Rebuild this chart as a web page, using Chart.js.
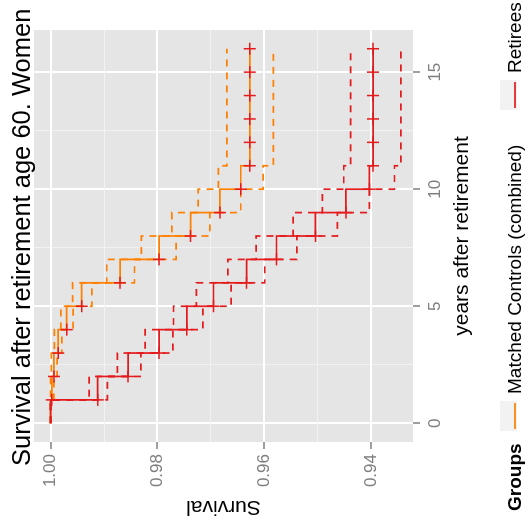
<!DOCTYPE html>
<html>
<head>
<meta charset="utf-8">
<script src="https://cdn.jsdelivr.net/npm/chart.js@4"></script>
<style>
html, body { margin: 0; padding: 0; background: #fff; overflow: hidden; }
#wrap { position: relative; width: 530px; height: 522px; }
/* the chart is drawn upright, then the whole canvas is turned a quarter to the left */
#c { position: absolute; left: 0; top: 0; transform-origin: 0 0; transform: translate(0, 522px) rotate(-90deg); }
</style>
</head>
<body>
<div id="wrap"><canvas id="c" width="522" height="530"></canvas></div>
<script>
const years = [0, 1, 2, 3, 4, 5, 6, 7, 8, 9, 10, 11, 12, 13, 14, 15, 16];

const controls      = [1.0000, 0.9998, 0.9994, 0.9986, 0.9970, 0.9942, 0.9870, 0.9797, 0.9738, 0.9683, 0.9644, 0.9627, 0.9627, 0.9627, 0.9627, 0.9627, 0.9627];
const controlsUpper = [1.0000, 1.0000, 0.9999, 0.9993, 0.9981, 0.9959, 0.9895, 0.9830, 0.9773, 0.9724, 0.9686, 0.9670, 0.9670, 0.9670, 0.9670, 0.9670, 0.9670];
const controlsLower = [1.0000, 0.9994, 0.9988, 0.9979, 0.9958, 0.9923, 0.9843, 0.9765, 0.9702, 0.9644, 0.9602, 0.9583, 0.9583, 0.9583, 0.9583, 0.9583, 0.9583];

const retirees      = [1.0000, 0.9912, 0.9855, 0.9797, 0.9745, 0.9695, 0.9633, 0.9577, 0.9504, 0.9447, 0.9403, 0.9396, 0.9396, 0.9396, 0.9396, 0.9396, 0.9396];
const retireesUpper = [1.0000, 0.9928, 0.9875, 0.9823, 0.9770, 0.9727, 0.9668, 0.9615, 0.9546, 0.9491, 0.9451, 0.9438, 0.9438, 0.9438, 0.9438, 0.9438, 0.9438];
const retireesLower = [1.0000, 0.9894, 0.9831, 0.9771, 0.9715, 0.9662, 0.9599, 0.9539, 0.9463, 0.9403, 0.9356, 0.9344, 0.9344, 0.9344, 0.9344, 0.9344, 0.9344];

const censorYears = [1, 2, 3, 4, 5, 6, 7, 8, 9, 10, 11, 12, 13, 14, 15, 16];

const survivalTicks = [0.94, 0.96, 0.98, 1.00];
const survivalMinor = [0.95, 0.97, 0.99];
const yearTicks = [0, 5, 10, 15];
const yearMinor = [2.5, 7.5, 12.5];

const groupNames = ['Matched Controls (combined)', 'Retirees'];
const ORANGE = '#FF7F00';
const RED = '#E41A1C';
const FONT = '"Liberation Sans", Arial, sans-serif';

Chart.defaults.font.family = FONT;

function pts(vals) {
  return years.map((t, i) => ({ x: t, y: vals[i] }));
}
function censored(vals) {
  return censorYears.map(t => ({ x: t, y: vals[years.indexOf(t)] }));
}
function curve(vals, color, dashed, order) {
  return {
    data: pts(vals), showLine: true, stepped: true,
    borderColor: color, borderWidth: 1.7, borderDash: dashed ? [7, 6] : [],
    pointRadius: 0, fill: false, order: order
  };
}
function near(list, v) {
  return list.some(m => Math.abs(m - v) < 1e-6);
}

const panelBg = {
  id: 'panelBg',
  beforeDraw(chart) {
    const { ctx, chartArea: a } = chart;
    ctx.save();
    ctx.fillStyle = '#E5E5E5';
    ctx.fillRect(a.left, a.top, a.right - a.left, a.bottom - a.top);
    ctx.restore();
  },
  afterDraw(chart) {
    const ctx = chart.ctx;
    ctx.save();
    ctx.fillStyle = '#000';
    ctx.textBaseline = 'alphabetic';
    ctx.font = '25.5px ' + FONT;
    ctx.fillText('Survival after retirement age 60. Women', 56, 30);

    // legend along the bottom
    ctx.font = 'bold 19px ' + FONT;
    ctx.fillText('Groups', 11, 521);
    ctx.font = '19px ' + FONT;
    const keyX = [91, 412];
    [ORANGE, RED].forEach((col, i) => {
      const x = keyX[i];
      ctx.fillStyle = '#F2F2F2';
      ctx.fillRect(x, 500, 30, 17);
      ctx.strokeStyle = col;
      ctx.lineWidth = 1.7;
      ctx.beginPath();
      ctx.moveTo(x + 2, 515);
      ctx.lineTo(x + 28, 515);
      ctx.stroke();
      ctx.fillStyle = '#000';
      ctx.fillText(groupNames[i], x + 37, 521);
    });
    ctx.restore();
  }
};

new Chart(document.getElementById('c'), {
  type: 'scatter',
  data: {
    datasets: [
      curve(controlsUpper, ORANGE, true, 5),
      curve(controlsLower, ORANGE, true, 5),
      curve(controls, ORANGE, false, 4),
      curve(retireesUpper, RED, true, 3),
      curve(retireesLower, RED, true, 3),
      curve(retirees, RED, false, 2),
      { data: censored(controls), pointStyle: 'cross', pointRadius: 6, borderColor: RED, borderWidth: 1.5, showLine: false, order: 1 },
      { data: censored(retirees), pointStyle: 'cross', pointRadius: 6, borderColor: RED, borderWidth: 1.5, showLine: false, order: 0 }
    ]
  },
  options: {
    responsive: false,
    animation: false,
    layout: { padding: { top: 34, right: 30, bottom: 0, left: 0 } },
    plugins: { legend: { display: false }, tooltip: { enabled: false } },
    scales: {
      x: {
        type: 'linear', position: 'bottom', min: -0.8, max: 16.8,
        afterFit: s => { s.height = 117; },
        afterBuildTicks: s => { s.ticks = yearTicks.concat(yearMinor).map(v => ({ value: v })); },
        border: { display: false },
        grid: {
          color: c => near(yearTicks, c.tick.value) ? '#FFFFFF' : '#F2F2F2',
          lineWidth: c => near(yearTicks, c.tick.value) ? 2 : 1,
          tickColor: c => near(yearTicks, c.tick.value) ? '#7F7F7F' : 'rgba(0,0,0,0)',
          tickWidth: 1.5, tickLength: 7
        },
        ticks: {
          autoSkip: false, maxRotation: 0, padding: 5, color: '#7F7F7F', font: { size: 17 },
          callback: v => near(yearTicks, v) ? String(v) : ''
        },
        title: { display: true, text: 'years after retirement', color: '#000', font: { size: 21 }, padding: { top: 0, bottom: 55 } }
      },
      y: {
        type: 'linear', min: 0.93213, max: 1.00313,
        afterFit: s => { s.width = 80; },
        afterBuildTicks: s => { s.ticks = survivalTicks.concat(survivalMinor).map(v => ({ value: v })); },
        border: { display: false },
        grid: {
          color: c => near(survivalTicks, c.tick.value) ? '#FFFFFF' : '#F2F2F2',
          lineWidth: c => near(survivalTicks, c.tick.value) ? 2 : 1,
          tickColor: c => near(survivalTicks, c.tick.value) ? '#7F7F7F' : 'rgba(0,0,0,0)',
          tickWidth: 1.5, tickLength: 7
        },
        ticks: {
          autoSkip: false, padding: 5, color: '#7F7F7F', font: { size: 17 },
          callback: v => near(survivalTicks, v) ? v.toFixed(2) : ''
        },
        title: { display: true, text: 'Survival', color: '#000', font: { size: 21 }, padding: { top: 3, bottom: 0 } }
      }
    }
  },
  plugins: [panelBg]
});
</script>
</body>
</html>
